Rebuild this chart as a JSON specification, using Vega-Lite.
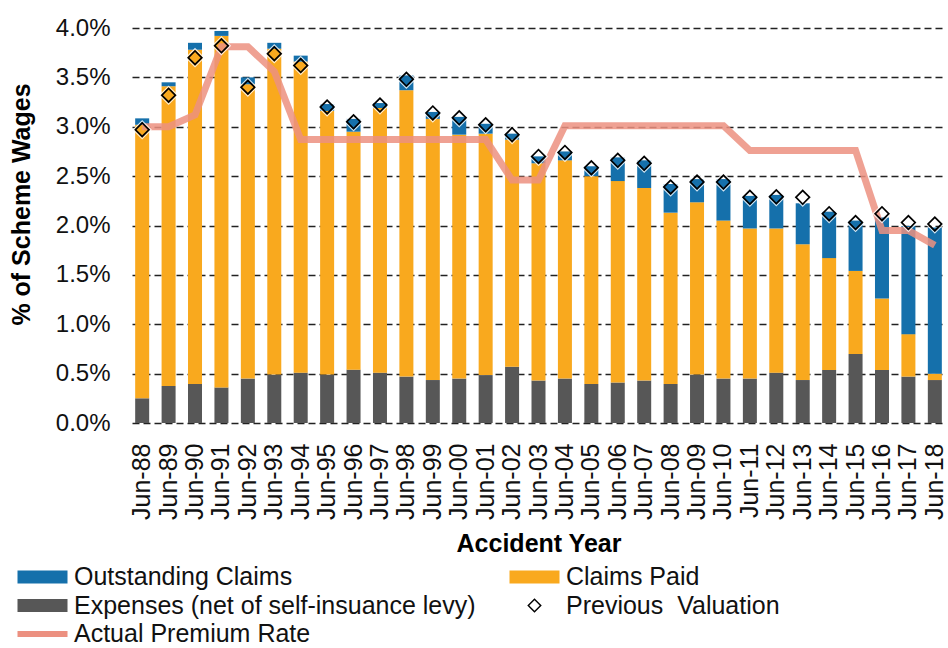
{
  "$schema": "https://vega.github.io/schema/vega-lite/v6.json",
  "autosize": {"type": "none"},
  "padding": {"left": 132, "top": 28, "right": 3, "bottom": 225},
  "width": 813,
  "height": 395,
  "background": "white",
  "config": {
    "view": {"stroke": null},
    "font": "Liberation Sans"
  },
  "data": {
    "values": [
      {"year": "Jun-88", "s1_expenses": 0.25, "s2_claims_paid": 2.77, "s3_outstanding": 0.065, "prev": 2.97, "rate": 3.00},
      {"year": "Jun-89", "s1_expenses": 0.375, "s2_claims_paid": 3.035, "s3_outstanding": 0.04, "prev": 3.32, "rate": 3.00},
      {"year": "Jun-90", "s1_expenses": 0.395, "s2_claims_paid": 3.385, "s3_outstanding": 0.07, "prev": 3.70, "rate": 3.12},
      {"year": "Jun-91", "s1_expenses": 0.36, "s2_claims_paid": 3.56, "s3_outstanding": 0.05, "prev": 3.82, "rate": 3.81},
      {"year": "Jun-92", "s1_expenses": 0.45, "s2_claims_paid": 2.98, "s3_outstanding": 0.07, "prev": 3.40, "rate": 3.81},
      {"year": "Jun-93", "s1_expenses": 0.49, "s2_claims_paid": 3.30, "s3_outstanding": 0.06, "prev": 3.74, "rate": 3.56},
      {"year": "Jun-94", "s1_expenses": 0.51, "s2_claims_paid": 3.15, "s3_outstanding": 0.06, "prev": 3.62, "rate": 2.87},
      {"year": "Jun-95", "s1_expenses": 0.49, "s2_claims_paid": 2.67, "s3_outstanding": 0.07, "prev": 3.20, "rate": 2.87},
      {"year": "Jun-96", "s1_expenses": 0.54, "s2_claims_paid": 2.41, "s3_outstanding": 0.13, "prev": 3.05, "rate": 2.87},
      {"year": "Jun-97", "s1_expenses": 0.51, "s2_claims_paid": 2.68, "s3_outstanding": 0.05, "prev": 3.22, "rate": 2.87},
      {"year": "Jun-98", "s1_expenses": 0.47, "s2_claims_paid": 2.90, "s3_outstanding": 0.15, "prev": 3.48, "rate": 2.87},
      {"year": "Jun-99", "s1_expenses": 0.435, "s2_claims_paid": 2.645, "s3_outstanding": 0.07, "prev": 3.14, "rate": 2.87},
      {"year": "Jun-00", "s1_expenses": 0.45, "s2_claims_paid": 2.47, "s3_outstanding": 0.18, "prev": 3.09, "rate": 2.87},
      {"year": "Jun-01", "s1_expenses": 0.485, "s2_claims_paid": 2.445, "s3_outstanding": 0.10, "prev": 3.02, "rate": 2.87},
      {"year": "Jun-02", "s1_expenses": 0.57, "s2_claims_paid": 2.30, "s3_outstanding": 0.06, "prev": 2.92, "rate": 2.46},
      {"year": "Jun-03", "s1_expenses": 0.43, "s2_claims_paid": 2.20, "s3_outstanding": 0.07, "prev": 2.70, "rate": 2.46},
      {"year": "Jun-04", "s1_expenses": 0.45, "s2_claims_paid": 2.21, "s3_outstanding": 0.09, "prev": 2.74, "rate": 3.01},
      {"year": "Jun-05", "s1_expenses": 0.395, "s2_claims_paid": 2.105, "s3_outstanding": 0.10, "prev": 2.585, "rate": 3.01},
      {"year": "Jun-06", "s1_expenses": 0.41, "s2_claims_paid": 2.04, "s3_outstanding": 0.24, "prev": 2.66, "rate": 3.01},
      {"year": "Jun-07", "s1_expenses": 0.43, "s2_claims_paid": 1.95, "s3_outstanding": 0.28, "prev": 2.63, "rate": 3.01},
      {"year": "Jun-08", "s1_expenses": 0.395, "s2_claims_paid": 1.735, "s3_outstanding": 0.29, "prev": 2.39, "rate": 3.01},
      {"year": "Jun-09", "s1_expenses": 0.49, "s2_claims_paid": 1.745, "s3_outstanding": 0.235, "prev": 2.44, "rate": 3.01},
      {"year": "Jun-10", "s1_expenses": 0.45, "s2_claims_paid": 1.60, "s3_outstanding": 0.42, "prev": 2.44, "rate": 3.01},
      {"year": "Jun-11", "s1_expenses": 0.45, "s2_claims_paid": 1.52, "s3_outstanding": 0.33, "prev": 2.285, "rate": 2.76},
      {"year": "Jun-12", "s1_expenses": 0.51, "s2_claims_paid": 1.46, "s3_outstanding": 0.34, "prev": 2.29, "rate": 2.76},
      {"year": "Jun-13", "s1_expenses": 0.435, "s2_claims_paid": 1.375, "s3_outstanding": 0.415, "prev": 2.285, "rate": 2.76},
      {"year": "Jun-14", "s1_expenses": 0.537, "s2_claims_paid": 1.133, "s3_outstanding": 0.47, "prev": 2.12, "rate": 2.76},
      {"year": "Jun-15", "s1_expenses": 0.70, "s2_claims_paid": 0.84, "s3_outstanding": 0.51, "prev": 2.03, "rate": 2.76},
      {"year": "Jun-16", "s1_expenses": 0.537, "s2_claims_paid": 0.723, "s3_outstanding": 0.82, "prev": 2.12, "rate": 1.95},
      {"year": "Jun-17", "s1_expenses": 0.47, "s2_claims_paid": 0.43, "s3_outstanding": 1.095, "prev": 2.03, "rate": 1.95},
      {"year": "Jun-18", "s1_expenses": 0.435, "s2_claims_paid": 0.065, "s3_outstanding": 1.48, "prev": 2.015, "rate": 1.80}
    ]
  },
  "encoding": {
    "x": {
      "field": "year",
      "type": "nominal",
      "sort": null,
      "scale": {"paddingInner": 0.47, "paddingOuter": 0.12},
      "axis": {
        "title": "Accident Year",
        "titleFont": "Liberation Sans",
        "titleFontSize": 25,
        "titleFontWeight": "bold",
        "titleColor": "#000",
        "titlePadding": 12,
        "labelAngle": -90,
        "labelFont": "Liberation Sans",
        "labelFontSize": 25,
        "labelColor": "#111",
        "labelPadding": 20,
        "ticks": false,
        "domain": false,
        "grid": false
      }
    }
  },
  "layer": [
    {
      "transform": [{"fold": ["s1_expenses", "s2_claims_paid", "s3_outstanding"], "as": ["series", "value"]}],
      "mark": {"type": "bar"},
      "encoding": {
        "y": {
          "field": "value",
          "type": "quantitative",
          "stack": "zero",
          "scale": {"domain": [0, 4], "nice": false},
          "axis": {
            "title": "% of Scheme Wages",
            "titleFont": "Liberation Sans",
            "titleFontSize": 25,
            "titleFontWeight": "bold",
            "titleColor": "#000",
            "titlePadding": 21,
            "titleY": 176,
            "values": [0, 0.5, 1, 1.5, 2, 2.5, 3, 3.5, 4],
            "labelExpr": "format(datum.value, '.1f') + '%'",
            "labelFont": "Liberation Sans",
            "labelFontSize": 24,
            "labelColor": "#111",
            "labelPadding": 22,
            "ticks": false,
            "domain": false,
            "grid": true,
            "gridColor": "#222",
            "gridWidth": 1.5,
            "gridDash": [7, 4]
          }
        },
        "order": {"field": "series", "sort": "ascending"},
        "color": {
          "field": "series",
          "type": "nominal",
          "scale": {
            "domain": ["s3_outstanding", "s2_claims_paid", "s1_expenses", "prev", "rate"],
            "range": ["#1570AB", "#F9A91E", "#575757", "#000000", "#EC9080"]
          },
          "legend": {
            "orient": "none",
            "legendX": -115,
            "legendY": 535,
            "direction": "horizontal",
            "columns": 2,
            "columnPadding": 33,
            "rowPadding": 1.5,
            "title": null,
            "symbolType": "M-1,-0.26H1V0.26H-1Z",
            "symbolSize": 2500,
            "labelFont": "Liberation Sans",
            "labelFontSize": 25,
            "labelColor": "#111",
            "labelLimit": 600,
            "labelExpr": "datum.value === 's3_outstanding' ? 'Outstanding Claims' : datum.value === 's2_claims_paid' ? 'Claims Paid' : datum.value === 's1_expenses' ? 'Expenses (net of self-insuance levy)' : datum.value === 'prev' ? 'Previous\u00a0 Valuation' : 'Actual Premium Rate'",
            "encode": {
              "symbols": {
                "update": {
                  "x": {"value": 25.5},
                  "y": {"value": 14},
                  "shape": {"signal": "datum.value === 'prev' ? 'M-1,0L0,-1L1,0L0,1Z M-0.72,0L0,0.72L0.72,0L0,-0.72Z' : datum.value === 'rate' ? 'stroke' : 'M-1,-0.26H1V0.26H-1Z'"},
                  "size": {"signal": "datum.value === 'prev' ? 210 : 2500"},
                  "fill": {"signal": "datum.value === 'prev' ? '#000000' : datum.value === 'rate' ? '#ffffff' : scale('color', datum.value)"},
                  "fillOpacity": {"signal": "datum.value === 'rate' ? 0 : 1"},
                  "stroke": {"signal": "datum.value === 'rate' ? '#EC9080' : '#ffffff'"},
                  "strokeOpacity": {"signal": "datum.value === 'rate' ? 1 : 0"},
                  "strokeWidth": {"signal": "datum.value === 'rate' ? 6 : 0"},
                  "opacity": {"value": 1}
                }
              },
              "labels": {
                "update": {
                  "x": {"value": 57},
                  "y": {"value": 14}
                }
              }
            }
          }
        }
      }
    },
    {
      "mark": {"type": "line", "color": "#EC9080", "strokeWidth": 7, "opacity": 0.85},
      "encoding": {
        "y": {"field": "rate", "type": "quantitative"}
      }
    },
    {
      "mark": {"type": "point", "shape": "M-1.22,0L0,-1.22L1.22,0L0,1.22Z M-1,0L0,1L1,0L0,-1Z", "filled": true, "color": "#FFFFFF", "size": 256, "opacity": 0.8},
      "encoding": {
        "y": {"field": "prev", "type": "quantitative"}
      }
    },
    {
      "mark": {"type": "point", "shape": "M-1,0L0,-1L1,0L0,1Z M-0.7,0L0,0.7L0.7,0L0,-0.7Z", "filled": true, "color": "#000000", "size": 256, "opacity": 1},
      "encoding": {
        "y": {"field": "prev", "type": "quantitative"}
      }
    }
  ]
}
